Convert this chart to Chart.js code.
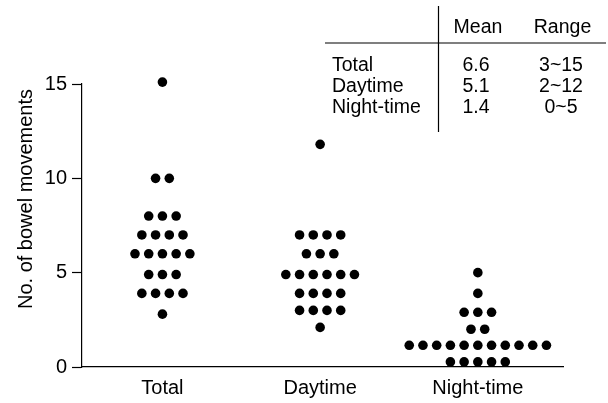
<!DOCTYPE html>
<html>
<head>
<meta charset="utf-8">
<script src="https://cdn.jsdelivr.net/npm/chart.js@4.4.0/dist/chart.umd.min.js"></script>
<style>
  html, body { margin: 0; padding: 0; background: #fff; }
  canvas { display: block; }
</style>
</head>
<body>
<canvas id="dotChart" width="608" height="403"></canvas>
<script>
// categories on the x axis
const categories = ['Total', 'Daytime', 'Night-time'];

// dot rows per group: y value of the row, number of dots in it
const totalValues = [15.1, 10, 8, 7, 6, 4.9, 3.9, 2.8];
const totalCounts = [1, 2, 3, 4, 5, 3, 4, 1];
const daytimeValues = [11.8, 7, 6, 4.9, 3.9, 3, 2.1];
const daytimeCounts = [1, 4, 3, 6, 4, 4, 1];
const nightValues = [5, 3.9, 2.9, 2, 1.15, 0.27];
const nightCounts = [1, 1, 3, 2, 11, 5];

const yTicks = [0, 5, 10, 15];

// summary table in the corner
const tableHeader = ['Mean', 'Range'];
const tableRows = ['Total', 'Daytime', 'Night-time'];
const tableMeans = ['6.6', '5.1', '1.4'];
const tableRanges = ['3~15', '2~12', '0~5'];

const yTitle = 'No. of bowel movements';
const FONT = '"Liberation Sans", Arial, sans-serif';
const DOT_STEP = 0.087; // horizontal spacing between dots, in category units

// lay the dots of one group side by side, row by row
function swarm(groupIndex, values, counts) {
    const pts = [];
    values.forEach(function(v, r) {
        const n = counts[r];
        for (let i = 0; i < n; i++) {
            pts.push({ x: groupIndex + 1 + (i - (n - 1) / 2) * DOT_STEP, y: v });
        }
    });
    return pts;
}

function dotSet(data) {
    return {
        data: data,
        backgroundColor: '#000',
        borderWidth: 0,
        pointRadius: 4.8,
        pointHoverRadius: 4.8,
        clip: false
    };
}

// draws the y title and the summary table
const extras = {
    id: 'extras',
    afterDraw: function(chart) {
        const ctx = chart.ctx;
        ctx.save();
        ctx.fillStyle = '#000';
        ctx.strokeStyle = '#000';
        ctx.font = '20px ' + FONT;

        // y axis title
        ctx.save();
        ctx.translate(32, 199);
        ctx.rotate(-Math.PI / 2);
        ctx.textAlign = 'center';
        ctx.textBaseline = 'alphabetic';
        ctx.fillText(yTitle, 0, 0);
        ctx.restore();

        // table lines
        ctx.lineWidth = 1.2;
        ctx.beginPath();
        ctx.moveTo(438.5, 6);
        ctx.lineTo(438.5, 132);
        ctx.moveTo(325, 43);
        ctx.lineTo(606, 43);
        ctx.stroke();

        // table text
        ctx.font = '19.5px ' + FONT;
        ctx.textBaseline = 'alphabetic';
        ctx.textAlign = 'center';
        ctx.fillText(tableHeader[0], 478, 33);
        ctx.fillText(tableHeader[1], 562.5, 33);
        const baselines = [71, 92, 113];
        tableRows.forEach(function(label, i) {
            ctx.textAlign = 'left';
            ctx.fillText(label, 332, baselines[i]);
            ctx.textAlign = 'center';
            ctx.fillText(tableMeans[i], 476, baselines[i]);
            ctx.fillText(tableRanges[i], 561, baselines[i]);
        });
        ctx.restore();
    }
};

const ctx = document.getElementById('dotChart').getContext('2d');
const dotChart = new Chart(ctx, {
    type: 'scatter',
    data: {
        datasets: [
            dotSet(swarm(0, totalValues, totalCounts)),
            dotSet(swarm(1, daytimeValues, daytimeCounts)),
            dotSet(swarm(2, nightValues, nightCounts))
        ]
    },
    options: {
        responsive: false,
        animation: false,
        devicePixelRatio: 1,
        layout: { padding: { top: 84, right: 45, left: 0, bottom: 0 } },
        plugins: {
            legend: { display: false },
            tooltip: { enabled: false }
        },
        scales: {
            x: {
                type: 'linear',
                min: 0.49,
                max: 3.54,
                afterBuildTicks: function(scale) {
                    scale.ticks = categories.map(function(c, i) { return { value: i + 1 }; });
                },
                afterFit: function(scale) { scale.height = 36; },
                ticks: {
                    color: '#000',
                    font: { family: FONT, size: 20 },
                    padding: 9,
                    maxRotation: 0,
                    callback: function(v) { return categories[v - 1]; }
                },
                grid: { display: false, drawTicks: false },
                border: { display: true, color: '#000', width: 1.2 }
            },
            y: {
                min: 0,
                max: 15,
                afterBuildTicks: function(scale) {
                    scale.ticks = yTicks.map(function(v) { return { value: v }; });
                },
                afterFit: function(scale) { scale.width = 82; },
                ticks: {
                    color: '#000',
                    font: { family: FONT, size: 20 },
                    padding: 5
                },
                grid: {
                    drawOnChartArea: false,
                    drawTicks: true,
                    tickLength: 10,
                    color: '#000',
                    tickWidth: 1.2
                },
                border: { display: true, color: '#000', width: 1.2 }
            }
        }
    },
    plugins: [extras]
});
</script>
</body>
</html>
